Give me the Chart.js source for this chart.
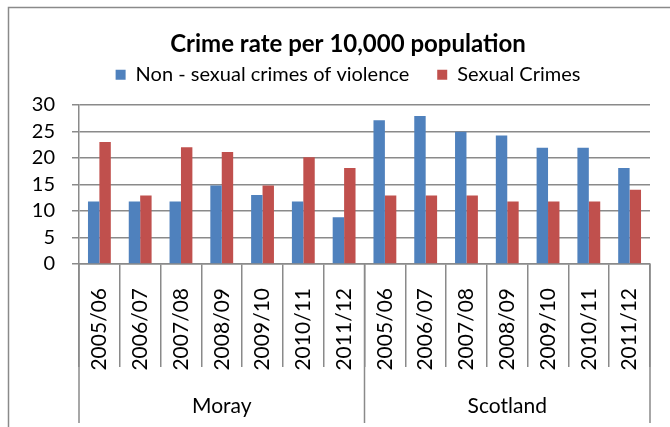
<!DOCTYPE html>
<html>
<head>
<meta charset="utf-8">
<script src="https://cdn.jsdelivr.net/npm/chart.js@4"></script>
<style>
  html, body { margin: 0; padding: 0; background: #fff; }
  #wrap { width: 670px; height: 427px; position: relative; }
</style>
</head>
<body>
<div id="wrap"><canvas id="myChart"></canvas></div>
<script>
// data
const years = ['2005/06', '2006/07', '2007/08', '2008/09', '2009/10', '2010/11', '2011/12'];
const regions = ['Moray', 'Scotland'];
const nonSexual = [11.8, 11.8, 11.8, 14.8, 13, 11.8, 8.8, 27.1, 27.9, 24.9, 24.2, 21.9, 21.9, 18.1];
const sexual = [23, 12.9, 22, 21.1, 14.8, 20.1, 18.1, 12.9, 12.9, 12.9, 11.8, 11.8, 11.8, 14];
const yTicks = [0, 5, 10, 15, 20, 25, 30];

const labels = [];
regions.forEach(() => years.forEach(y => labels.push(y)));

const gray = '#8a8a8a';
const font = 'Lato';

// outer frame + region labels under the year labels
const groupPlugin = {
    id: 'groups',
    beforeDraw(chart) {
        const ctx = chart.ctx;
        ctx.save();
        ctx.strokeStyle = gray;
        ctx.lineWidth = 1.5;
        ctx.beginPath();
        ctx.moveTo(8.5, chart.height);
        ctx.lineTo(8.5, 7.5);
        ctx.lineTo(chart.width, 7.5);
        ctx.stroke();
        ctx.restore();
    },
    afterDraw(chart) {
        const ctx = chart.ctx;
        const x = chart.scales.x;
        const step = x.width / labels.length;
        ctx.save();
        ctx.strokeStyle = gray;
        ctx.lineWidth = 1.5;
        for (let k = 0; k <= regions.length; k++) {
            const px = x.left + k * years.length * step;
            ctx.beginPath();
            ctx.moveTo(px, x.top);
            ctx.lineTo(px, 423);
            ctx.stroke();
        }
        ctx.fillStyle = '#000';
        ctx.font = '21px ' + font;
        ctx.textAlign = 'center';
        ctx.textBaseline = 'middle';
        regions.forEach((r, k) => {
            const cx = x.left + (k + 0.5) * years.length * step;
            ctx.fillText(r, cx, 406);
        });
        ctx.restore();
    }
};

const ctx = document.getElementById('myChart').getContext('2d');
new Chart(ctx, {
    type: 'bar',
    data: {
        labels: labels,
        datasets: [
            {
                label: 'Non - sexual crimes of violence',
                data: nonSexual,
                backgroundColor: '#4F81BD',
                categoryPercentage: 0.56,
                barPercentage: 1
            },
            {
                label: 'Sexual Crimes',
                data: sexual,
                backgroundColor: '#C0504D',
                categoryPercentage: 0.56,
                barPercentage: 1
            }
        ]
    },
    options: {
        responsive: true,
        maintainAspectRatio: false,
        animation: false,
        layout: { padding: { left: 26, right: 0, top: 0, bottom: 0 } },
        plugins: {
            title: {
                display: true,
                text: 'Crime rate per 10,000 population',
                color: '#000',
                font: { family: font, size: 24, weight: 'bold' },
                padding: { top: 30, bottom: -22 }
            },
            // empty spacer between legend and plot
            subtitle: {
                display: true,
                text: '',
                weight: 100,
                font: { size: 10, lineHeight: 1 },
                padding: 0
            },
            legend: {
                labels: {
                    color: '#000',
                    font: { family: font, size: 20 },
                    boxWidth: 10,
                    boxHeight: 10,
                    padding: 28
                }
            },
            tooltip: { enabled: false }
        },
        scales: {
            x: {
                grid: {
                    offset: true,
                    drawOnChartArea: false,
                    color: gray,
                    lineWidth: 1.5,
                    tickLength: 103
                },
                border: { color: gray, width: 1.5 },
                ticks: {
                    color: '#000',
                    font: { family: font, size: 21 },
                    minRotation: 90,
                    maxRotation: 90,
                    autoSkip: false,
                    padding: -79
                },
                afterFit: s => { s.height = 163; }
            },
            y: {
                min: 0,
                max: 30,
                afterBuildTicks: s => { s.ticks = yTicks.map(v => ({ value: v })); },
                grid: { color: gray, lineWidth: 1.5, tickLength: 7 },
                border: { color: gray, width: 1.5 },
                ticks: {
                    color: '#000',
                    font: { family: font, size: 20 },
                    autoSkip: false,
                    padding: 17
                },
                afterFit: s => { s.width = 53; }
            },
            y2: {
                position: 'right',
                display: true,
                grid: { display: false },
                border: { display: false },
                ticks: { display: false },
                afterFit: s => { s.width = 20; }
            }
        }
    },
    plugins: [groupPlugin]
});
</script>
</body>
</html>
